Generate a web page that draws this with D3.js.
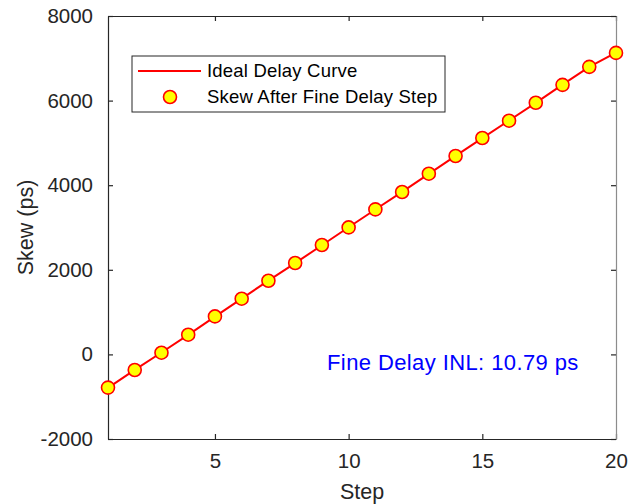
<!DOCTYPE html>
<html lang="en">
	<head>
		<meta charset="utf-8">
		<title>Fine delay skew</title>
		<script src="https://d3js.org/d3.v7.min.js"></script>
		<style type="text/css">
			body { margin: 0; background: #fff; }
			text { font-family: "Liberation Sans", Arial, sans-serif; }
		</style>
	</head>
	<body>
		<script type="text/javascript">

		  // data
		  var steps = [1, 2, 3, 4, 5, 6, 7, 8, 9, 10, 11, 12, 13, 14, 15, 16, 17, 18, 19, 20];
		  var skew = [-785, -369, 40, 466, 898, 1317, 1742, 2161, 2586, 3002, 3428, 3839, 4272, 4690, 5116, 5525, 5950, 6372, 6798, 7128];
		  var ideal = [-790, -366, 45, 462, 893, 1320, 1745, 2158, 2580, 3005, 3425, 3843, 4268, 4695, 5113, 5530, 5946, 6377, 6795, 7132];
		  var xTicks = [5, 10, 15, 20];
		  var yTicks = [-2000, 0, 2000, 4000, 6000, 8000];
		  var legendLabels = ["Ideal Delay Curve", "Skew After Fine Delay Step"];
		  var note = "Fine Delay INL: 10.79 ps";

		  //Width and height
		  var W = 638, H = 504;
		  var margin = {top: 16, right: 22, bottom: 65, left: 108};
		  var width = W - margin.left - margin.right;
		  var height = H - margin.top - margin.bottom;

		  var svg = d3.select("body")
		              .append("svg")
		              .attr("width", W)
		              .attr("height", H);
		  var g = svg.append("g")
		             .attr("transform", "translate(" + margin.left + "," + margin.top + ")");

		  var xScale = d3.scaleLinear().domain([1, 20]).range([0, width]);
		  var yScale = d3.scaleLinear().domain([-2000, 8000]).range([height, 0]);

		  var axisColor = "#262626";
		  var plain = function(d) { return String(d); };

		  // axes, ticks pointing inward like matlab
		  var xAxis = d3.axisBottom(xScale).tickValues(xTicks).tickFormat(plain).tickSizeInner(-5).tickSizeOuter(0).tickPadding(14);
		  var yAxis = d3.axisLeft(yScale).tickValues(yTicks).tickFormat(plain).tickSizeInner(-5).tickSizeOuter(0).tickPadding(15);

		  var gx = g.append("g").attr("transform", "translate(0," + height + ")").call(xAxis);
		  var gy = g.append("g").call(yAxis);
		  // top and right ticks
		  var gxt = g.append("g").call(d3.axisTop(xScale).tickValues(xTicks).tickSizeInner(-5).tickSizeOuter(0).tickFormat(""));
		  var gyr = g.append("g").attr("transform", "translate(" + width + ",0)")
		             .call(d3.axisRight(yScale).tickValues(yTicks).tickSizeInner(-5).tickSizeOuter(0).tickFormat(""));

		  [gx, gy, gxt, gyr].forEach(function(a) {
		    a.selectAll(".domain").attr("stroke", axisColor).attr("stroke-width", 1.2);
		    a.selectAll(".tick line").attr("stroke", axisColor).attr("stroke-width", 1.2);
		    a.selectAll(".tick text").attr("fill", axisColor).attr("font-size", "20.5px")
		     .attr("font-family", "'Liberation Sans', Arial, sans-serif");
		  });
		  gyr.select(".domain").attr("stroke", "#8c8c8c");
		  gx.selectAll(".tick text").attr("dy", "0.71em");

		  // ideal line
		  var line = d3.line()
		               .x(function(d, i) { return xScale(steps[i]); })
		               .y(function(d) { return yScale(d); });
		  g.append("path")
		   .datum(ideal)
		   .attr("d", line)
		   .attr("fill", "none")
		   .attr("stroke", "#ff0000")
		   .attr("stroke-width", 2);

		  // measured points
		  g.selectAll("circle.pt")
		   .data(skew)
		   .enter()
		   .append("circle")
		   .attr("class", "pt")
		   .attr("cx", function(d, i) { return xScale(steps[i]); })
		   .attr("cy", function(d) { return yScale(d); })
		   .attr("r", 6.5)
		   .attr("fill", "#ffff00")
		   .attr("stroke", "#ff0000")
		   .attr("stroke-width", 1.6);

		  // note
		  g.append("text")
		   .attr("x", 219)
		   .attr("y", 354)
		   .attr("fill", "#0000ff")
		   .attr("font-size", "22px")
		   .attr("letter-spacing", "0.4px")
		   .text(note);

		  // legend
		  var lg = svg.append("g").attr("transform", "translate(132,56)");
		  lg.append("rect")
		    .attr("width", 313).attr("height", 56)
		    .attr("fill", "#fff").attr("stroke", axisColor).attr("stroke-width", 1);
		  lg.append("line")
		    .attr("x1", 6).attr("x2", 69).attr("y1", 15).attr("y2", 15)
		    .attr("stroke", "#ff0000").attr("stroke-width", 2);
		  lg.append("circle")
		    .attr("cx", 38).attr("cy", 41).attr("r", 6.5)
		    .attr("fill", "#ffff00").attr("stroke", "#ff0000").attr("stroke-width", 1.6);
		  lg.selectAll("text.lab")
		    .data(legendLabels)
		    .enter()
		    .append("text")
		    .attr("class", "lab")
		    .attr("x", 75)
		    .attr("y", function(d, i) { return 15 + i * 26; })
		    .attr("dy", "0.35em")
		    .attr("font-size", "18.5px")
		    .attr("letter-spacing", "0.2px")
		    .attr("fill", "#000")
		    .text(function(d) { return d; });

		  // axis titles
		  svg.append("text")
		     .attr("x", margin.left + width / 2)
		     .attr("y", 499)
		     .attr("text-anchor", "middle")
		     .attr("font-size", "21.5px")
		     .attr("fill", axisColor)
		     .text("Step");
		  svg.append("text")
		     .attr("transform", "translate(33," + (margin.top + height / 2) + ") rotate(-90)")
		     .attr("text-anchor", "middle")
		     .attr("font-size", "21.5px")
		     .attr("fill", axisColor)
		     .text("Skew (ps)");

		</script>
	</body>
</html>
